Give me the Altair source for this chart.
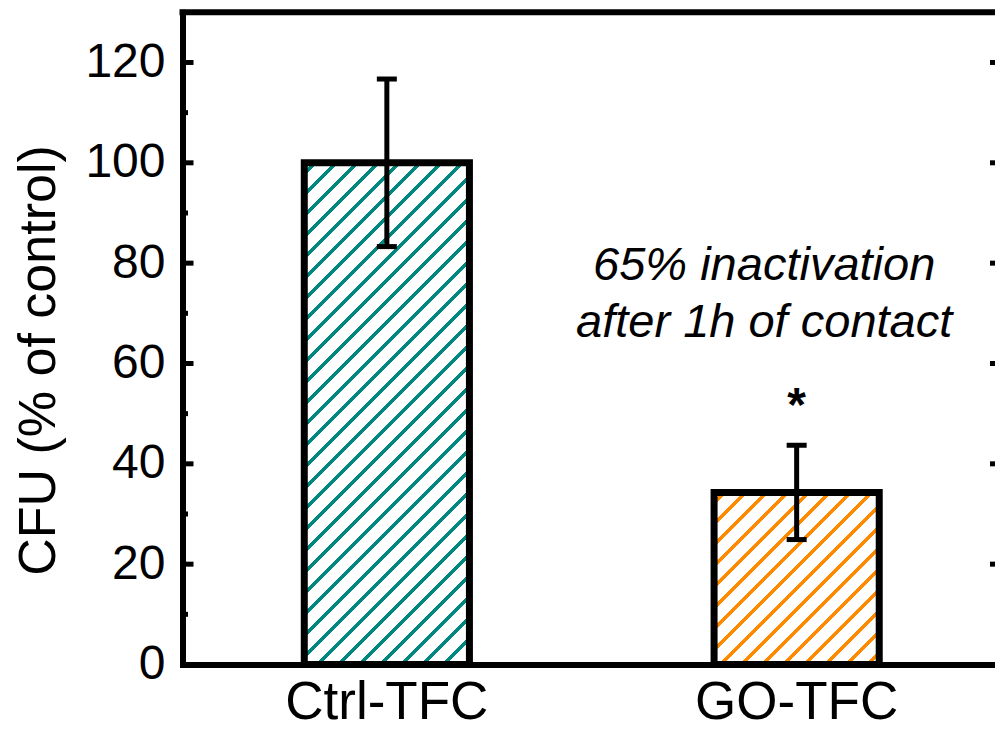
import altair as alt
import pandas as pd

# ---- data -------------------------------------------------------------
groups = ["Ctrl-TFC", "GO-TFC"]
cfu_mean = [100.0, 34.3]          # CFU, % of control
cfu_err = [16.7, 9.4]             # error bar half-width
hatch_colors = ["#00877f", "#ff8a00"]

major_ticks = [0, 20, 40, 60, 80, 100, 120]
minor_ticks = [10, 30, 50, 70, 90, 110]
y_max = 130

note_lines = ["65% inactivation", "after 1h of contact"]
note_group = "GO-TFC"
note_y = 76.6
star_group = "GO-TFC"

# ---- layout / style ---------------------------------------------------
FONT = "Liberation Sans"
W, H = 812.5, 652.2
PAD_IN, PAD_OUT = 0.597, 0.2825
X_RANGE = [6, W]

step = (X_RANGE[1] - X_RANGE[0]) / (len(groups) - PAD_IN + 2 * PAD_OUT)
bar_w = step * (1 - PAD_IN)


def hatch_fill(color, w, h, period=21.0, line=5.4, phase=8.0):
    """Diagonal '/' hatching as a hard-stop linear gradient.

    With bounding-box gradient units the gradient parameter equals
    (x + y) / (w + h) in pixels, so stripes run at 45 degrees."""
    tot = w + h
    c = (1 / h + 1 / w) / (1 / h ** 2 + 1 / w ** 2)
    stops = [{"offset": 0, "color": "white"}]
    s = phase
    while s < tot:
        a = s / tot
        b = min((s + line) / tot, 1.0)
        stops += [
            {"offset": a, "color": "white"},
            {"offset": a, "color": color},
            {"offset": b, "color": color},
            {"offset": b, "color": "white"},
        ]
        s += period
    stops.append({"offset": 1, "color": "white"})
    return {
        "gradient": "linear",
        "x1": 0, "y1": 0,
        "x2": c / h, "y2": c / w,
        "stops": stops,
    }


bars = pd.DataFrame({"group": groups, "mean": cfu_mean, "err": cfu_err})
bars["lo"] = bars["mean"] - bars["err"]
bars["hi"] = bars["mean"] + bars["err"]

x_scale = alt.Scale(domain=groups, range=X_RANGE,
                    paddingInner=PAD_IN, paddingOuter=PAD_OUT)
y_scale = alt.Scale(domain=[0, y_max], nice=False, zero=True)

x_axis = alt.Axis(title=None, labelAngle=0, labelPadding=12, labelLimit=0)
y_axis = alt.Axis(
    values=major_ticks, labelPadding=17.5,
    title="CFU (% of control)", titleAngle=-90,
    titleAlign="center", titleBaseline="alphabetic",
    titleX=-128.5, titleY=347.7,
)

base = alt.Chart(bars)

bar_layers = []
for i, g in enumerate(groups):
    h_px = cfu_mean[i] * H / y_max
    enc_x = alt.X("group:N", scale=x_scale)
    enc_y = alt.Y("mean:Q", scale=y_scale)
    if i == 0:
        enc_x = alt.X("group:N", scale=x_scale, axis=x_axis)
        enc_y = alt.Y("mean:Q", scale=y_scale, axis=y_axis)
    layer = base.transform_filter(alt.datum.group == g).mark_bar(
        fill=hatch_fill(hatch_colors[i], bar_w, h_px),
        stroke="black", strokeWidth=7, strokeJoin="miter",
    ).encode(x=enc_x, y=enc_y)
    bar_layers.append(layer)

err_rule = base.mark_rule(color="black", strokeWidth=5).encode(
    x=alt.X("group:N", scale=x_scale),
    y=alt.Y("lo:Q", scale=y_scale),
    y2="hi:Q",
)
cap_lo = base.mark_tick(color="black", size=20, thickness=5, opacity=1).encode(
    x=alt.X("group:N", scale=x_scale),
    y=alt.Y("lo:Q", scale=y_scale),
)
cap_hi = base.mark_tick(color="black", size=20, thickness=5, opacity=1).encode(
    x=alt.X("group:N", scale=x_scale),
    y=alt.Y("hi:Q", scale=y_scale),
)

star = base.transform_filter(alt.datum.group == star_group).mark_text(
    text="*", font=FONT, fontSize=48, fontWeight="bold", color="black",
    align="center", baseline="alphabetic", dy=-24,
).encode(
    x=alt.X("group:N", scale=x_scale),
    y=alt.Y("hi:Q", scale=y_scale),
)

note = alt.Chart(pd.DataFrame({"group": [note_group], "y": [note_y]})).mark_text(
    text=note_lines, font=FONT, fontSize=47, fontStyle="italic", color="black",
    align="center", baseline="alphabetic", lineHeight=57, dx=-32.5,
).encode(
    x=alt.X("group:N", scale=x_scale),
    y=alt.Y("y:Q", scale=y_scale),
)

# inward tick marks on the left and right edges, and the top frame line
major_df = pd.DataFrame({"v": major_ticks})
minor_df = pd.DataFrame({"v": minor_ticks})

left_major = alt.Chart(major_df).mark_rule(color="black", strokeWidth=5).encode(
    y=alt.Y("v:Q", scale=y_scale), x=alt.value(0), x2=alt.value(11),
)
left_minor = alt.Chart(minor_df).mark_rule(color="black", strokeWidth=5).encode(
    y=alt.Y("v:Q", scale=y_scale), x=alt.value(0), x2=alt.value(5.5),
)
right_major = alt.Chart(major_df).mark_rule(color="black", strokeWidth=5).encode(
    y=alt.Y("v:Q", scale=y_scale), x=alt.value(W - 5), x2=alt.value(W),
)
top_line = alt.Chart(pd.DataFrame({"v": [y_max]})).mark_rule(
    color="black", strokeWidth=6, strokeCap="square"
).encode(
    y=alt.Y("v:Q", scale=y_scale), x=alt.value(0), x2=alt.value(W),
)

chart = alt.layer(
    *bar_layers, err_rule, cap_lo, cap_hi, star, note,
    left_major, left_minor, right_major, top_line,
).properties(
    width=W, height=H,
    autosize=alt.AutoSizeParams(type="none"),
    padding={"left": 182.5, "top": 12.3, "right": 0, "bottom": 65.5},
    background="white",
).configure_view(
    stroke=None
).configure_axis(
    ticks=False, tickSize=0, grid=False,
    domainColor="black", domainWidth=6, domainCap="square",
    labelFont=FONT, labelColor="black",
    titleFont=FONT, titleFontSize=52, titleFontWeight="normal", titleColor="black",
).configure_axisX(
    labelFontSize=53, labelLimit=0,
).configure_axisY(
    labelFontSize=48,
)

chart.save("out.html", embed_options={"renderer": "svg", "actions": False})
